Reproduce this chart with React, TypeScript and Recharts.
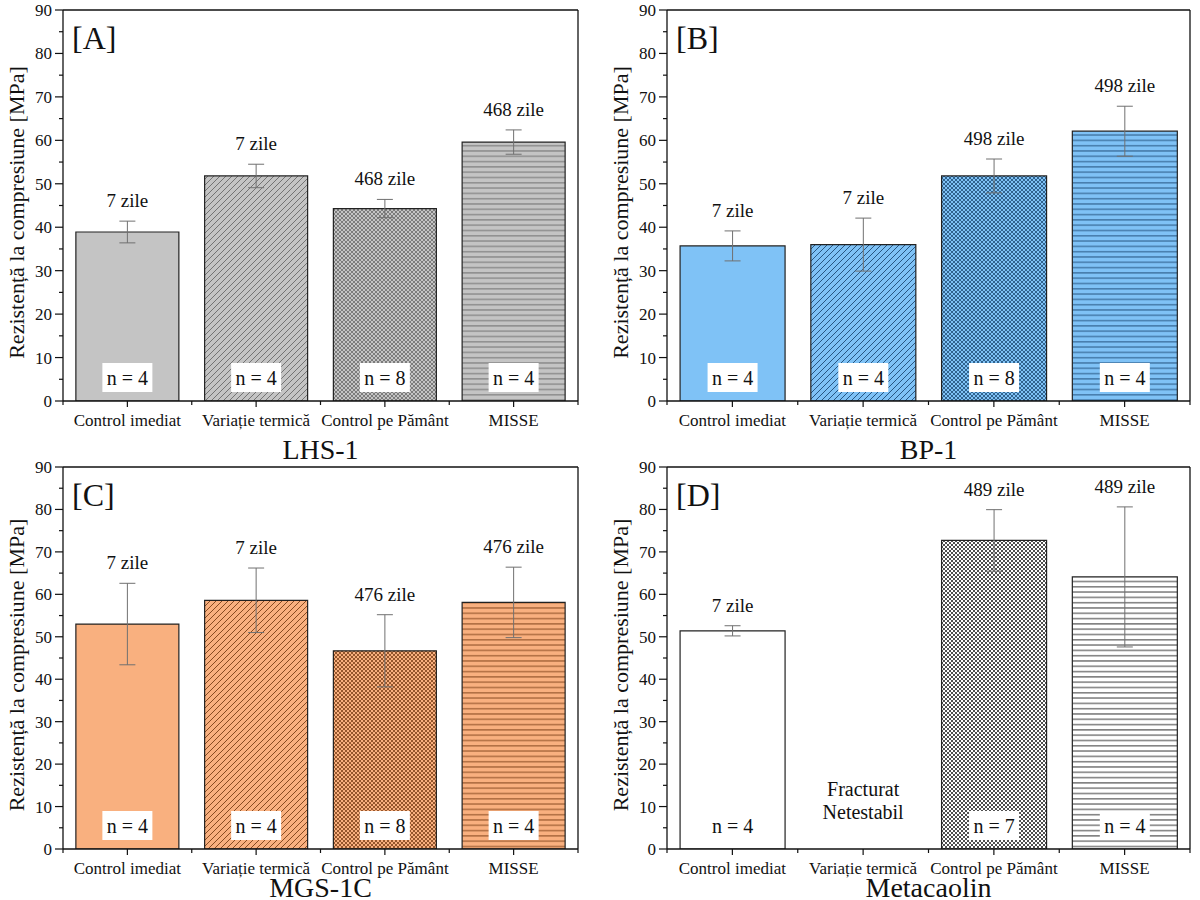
import React from 'react';
import {
  BarChart,
  Bar,
  XAxis,
  YAxis,
  ErrorBar,
  Cell,
  LabelList,
  ReferenceDot,
} from 'recharts';

const FONT = "'Liberation Serif', 'Times New Roman', Times, serif";

const categories = ['Control imediat', 'Variație termică', 'Control pe Pământ', 'MISSE'];
const yTicks = [0, 5, 10, 15, 20, 25, 30, 35, 40, 45, 50, 55, 60, 65, 70, 75, 80, 85, 90];

// [A] LHS-1
const lhsValues = [38.9, 51.8, 44.3, 59.6];
const lhsErrors = [2.5, 2.7, 2.1, 2.8];
const lhsDays = ['7 zile', '7 zile', '468 zile', '468 zile'];
const lhsCounts = [4, 4, 8, 4];

// [B] BP-1
const bpValues = [35.7, 36.0, 51.8, 62.1];
const bpErrors = [3.45, 6.1, 3.9, 5.75];
const bpDays = ['7 zile', '7 zile', '498 zile', '498 zile'];
const bpCounts = [4, 4, 8, 4];

// [C] MGS-1C
const mgsValues = [53.0, 58.6, 46.7, 58.1];
const mgsErrors = [9.6, 7.6, 8.5, 8.3];
const mgsDays = ['7 zile', '7 zile', '476 zile', '476 zile'];
const mgsCounts = [4, 4, 8, 4];

// [D] Metacaolin (thermal cycling samples fractured, not tested)
const metaValues = [51.4, null, 72.7, 64.1];
const metaErrors = [1.2, null, 7.25, 16.5];
const metaDays = ['7 zile', null, '489 zile', '489 zile'];
const metaCounts = [4, null, 7, 4];

type Row = { name: string; value: number | null; err: number | null; days: string | null; n: number | null };

function buildRows(values: (number | null)[], errors: (number | null)[], days: (string | null)[], counts: (number | null)[]): Row[] {
  return categories.map((name, i) => ({ name, value: values[i], err: errors[i], days: days[i], n: counts[i] }));
}

const PATTERNS = ['solid', 'diag', 'cross', 'horiz'];

function Patterns({ id, fill, line }: { id: string; fill: string; line: string }) {
  return (
    <defs>
      <pattern id={`${id}-diag`} patternUnits="userSpaceOnUse" width={6} height={6}>
        <rect width={6} height={6} fill={fill} />
        <path d="M-1,1 L1,-1 M0,6 L6,0 M5,7 L7,5" stroke={line} strokeWidth={0.9} />
      </pattern>
      <pattern id={`${id}-cross`} patternUnits="userSpaceOnUse" width={4} height={4}>
        <rect width={4} height={4} fill={fill} />
        <path d="M0,0 L4,4 M4,0 L0,4" stroke={line} strokeWidth={0.8} />
      </pattern>
      <pattern id={`${id}-horiz`} patternUnits="userSpaceOnUse" width={6} height={5.3}>
        <rect width={6} height={5.3} fill={fill} />
        <line x1={0} x2={6} y1={2.6} y2={2.6} stroke={line} strokeWidth={0.9} />
      </pattern>
    </defs>
  );
}

const YTick = (props: any) => {
  const { x, y, payload } = props;
  const major = payload.value % 10 === 0;
  return (
    <g>
      <line x1={x - (major ? 8 : 4)} x2={x} y1={y} y2={y} stroke="#111" strokeWidth={1.2} />
      {major && (
        <text x={x - 11} y={y} dy="0.35em" textAnchor="end" fontSize={17} fontFamily={FONT} fill="#111">
          {payload.value}
        </text>
      )}
    </g>
  );
};

const XTick = (props: any) => {
  const { x, y, payload, index } = props;
  const half = payload.offset ?? 0;
  return (
    <g>
      <line x1={x} x2={x} y1={y} y2={y + 6} stroke="#111" strokeWidth={1.2} />
      {half > 0 && <line x1={x - half} x2={x - half} y1={y} y2={y + 4} stroke="#111" strokeWidth={1.2} />}
      {half > 0 && index === categories.length - 1 && (
        <line x1={x + half} x2={x + half} y1={y} y2={y + 4} stroke="#111" strokeWidth={1.2} />
      )}
      <text x={x} y={y + 25} textAnchor="middle" fontSize={17} fontFamily={FONT} fill="#111">
        {payload.value}
      </text>
    </g>
  );
};

function box(props: any) {
  const vb = props.viewBox ?? {};
  return {
    x: props.x ?? vb.x,
    y: props.y ?? vb.y,
    width: props.width ?? vb.width,
    height: props.height ?? vb.height,
  };
}

type PanelProps = {
  id: string;
  letter: string;
  title: string;
  rows: Row[];
  fill: string;
  line: string;
  left: number;
  top: number;
  width: number;
  height: number;
  right: number;
  xHeight: number;
  titleOffset: number;
  note?: boolean;
};

function Panel({ id, letter, title, rows, fill, line, left, top, width, height, right, xHeight, titleOffset, note }: PanelProps) {
  const plotRight = width - right;
  const rowByName = (name: string) => rows.find((r) => r.name === name);

  const daysLabel = (props: any) => {
    const { x, y, width: w, height: h } = box(props);
    const row = rowByName(props.value);
    if (!row || row.value == null || !row.days) return null;
    const perUnit = h / row.value;
    const errTop = y - (row.err ?? 0) * perUnit;
    return (
      <text x={x + w / 2} y={errTop - 14} textAnchor="middle" fontSize={19} fontFamily={FONT} fill="#111">
        {row.days}
      </text>
    );
  };

  const countLabel = (props: any) => {
    const { x, y, width: w, height: h } = box(props);
    const row = rowByName(props.value);
    if (!row || row.n == null) return null;
    const cx = x + w / 2;
    const base = y + h;
    return (
      <g>
        <rect x={cx - 25} y={base - 38} width={50} height={29} fill="#fff" />
        <text x={cx} y={base - 16.5} textAnchor="middle" fontSize={20} fontFamily={FONT} fill="#111">
          n = {row.n}
        </text>
      </g>
    );
  };

  // y title, panel letter and the top/right frame of the plot box
  const yTitle = (props: any) => {
    const vb = props.viewBox;
    const cy = vb.y + vb.height / 2 + 7;
    const axisX = vb.x + vb.width;
    return (
      <g>
        <line x1={axisX} x2={plotRight} y1={vb.y} y2={vb.y} stroke="#111" strokeWidth={1.3} />
        <line x1={plotRight} x2={plotRight} y1={vb.y} y2={vb.y + vb.height} stroke="#111" strokeWidth={1.3} />
        <text x={16} y={cy} transform={`rotate(-90, 16, ${cy})`} dy="0.35em" textAnchor="middle" fontSize={22} fontFamily={FONT} fill="#111">
          Rezistență la compresiune [MPa]
        </text>
        <text x={axisX + 9} y={vb.y + 39} fontSize={32} fontFamily={FONT} fill="#111">
          {letter}
        </text>
      </g>
    );
  };

  const xTitle = (props: any) => {
    const vb = props.viewBox;
    return (
      <text x={vb.x + vb.width / 2} y={vb.y + titleOffset} textAnchor="middle" fontSize={28} fontFamily={FONT} fill="#111">
        {title}
      </text>
    );
  };

  const noteLabel = (props: any) => {
    const { x, y, width: w, height: h } = box(props);
    const cx = x + (w || 0) / 2;
    const cy = y + (h || 0) / 2;
    return (
      <g>
        <text x={cx} y={cy - 53} textAnchor="middle" fontSize={20} fontFamily={FONT} fill="#111">
          Fracturat
        </text>
        <text x={cx} y={cy - 30} textAnchor="middle" fontSize={20} fontFamily={FONT} fill="#111">
          Netestabil
        </text>
      </g>
    );
  };

  const axisStroke = { stroke: '#111', strokeWidth: 1.3 };

  return (
    <div style={{ position: 'absolute', left, top, width, height }}>
      <BarChart
        width={width}
        height={height}
        data={rows}
        margin={{ top: 10, right, bottom: 0, left: 0 }}
        barCategoryGap="10%"
        style={{ fontFamily: FONT }}
      >
        <Patterns id={id} fill={fill} line={line} />
        <XAxis
          dataKey="name"
          height={xHeight}
          interval={0}
          tick={<XTick />}
          tickLine={false}
          tickSize={0}
          tickMargin={0}
          axisLine={axisStroke}
          label={{ content: xTitle }}
        />
        <YAxis
          domain={[0, 90]}
          ticks={yTicks}
          interval={0}
          width={63}
          tick={<YTick />}
          tickLine={false}
          tickSize={0}
          tickMargin={0}
          axisLine={axisStroke}
          allowDataOverflow
          label={{ content: yTitle }}
        />
        <Bar dataKey="value" stroke="#222" strokeWidth={1.2} isAnimationActive={false}>
          {rows.map((r, i) => (
            <Cell key={r.name} fill={PATTERNS[i] === 'solid' ? fill : `url(#${id}-${PATTERNS[i]})`} />
          ))}
          <ErrorBar dataKey="err" width={8} stroke="#707070" strokeWidth={1} direction="y" />
          <LabelList dataKey={(r: Row) => r.name} content={daysLabel} />
          <LabelList dataKey={(r: Row) => r.name} content={countLabel} />
        </Bar>
        {note && (
          <ReferenceDot x={categories[1]} y={0} r={0} fill="none" stroke="none" label={{ content: noteLabel }} />
        )}
      </BarChart>
    </div>
  );
}

export default function App() {
  return (
    <div style={{ position: 'absolute', left: 0, top: 0, width: 1200, height: 900, background: '#fff', overflow: 'hidden' }}>
      <Panel id="a" letter="[A]" title="LHS-1" rows={buildRows(lhsValues, lhsErrors, lhsDays, lhsCounts)}
        fill="#c4c4c4" line="#6a6a6a" left={0} top={0} width={600} height={470} right={22} xHeight={69} titleOffset={58} />
      <Panel id="b" letter="[B]" title="BP-1" rows={buildRows(bpValues, bpErrors, bpDays, bpCounts)}
        fill="#7fc2f6" line="#1d4a75" left={604} top={0} width={596} height={470} right={10} xHeight={69} titleOffset={58} />
      <Panel id="c" letter="[C]" title="MGS-1C" rows={buildRows(mgsValues, mgsErrors, mgsDays, mgsCounts)}
        fill="#f9b07f" line="#7b3f16" left={0} top={457} width={600} height={443} right={22} xHeight={51} titleOffset={48} />
      <Panel id="d" letter="[D]" title="Metacaolin" rows={buildRows(metaValues, metaErrors, metaDays, metaCounts)}
        fill="#ffffff" line="#222222" left={604} top={457} width={596} height={443} right={10} xHeight={51} titleOffset={48} note />
    </div>
  );
}
